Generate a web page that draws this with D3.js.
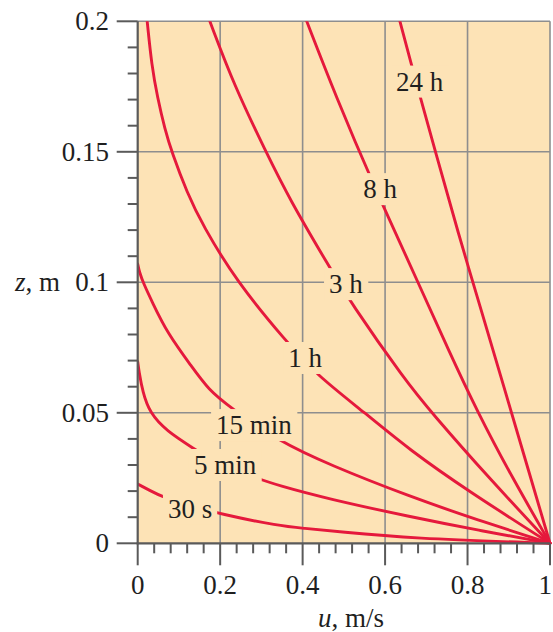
<!DOCTYPE html>
<html><head><meta charset="utf-8">
<script src="https://cdn.jsdelivr.net/npm/d3@7"></script>
<style>body{margin:0;background:#fff;} svg{display:block}</style>
</head><body>
<svg id="c" width="553" height="632"></svg>
<script>
// ---- data (u in m/s, z in m) ----
const seriesNames = ["30 s", "5 min", "15 min", "1 h", "3 h", "8 h", "24 h"];
const s30s  = [[1,0],[0.66,0.0019],[0.49,0.0044],[0.40,0.0058],[0.345,0.0066],[0.2,0.0112],[0.12,0.0148],[0.062,0.0176],[0.03,0.0202],[0,0.0227]];
const s5min = [[1,0],[0.826,0.005],[0.66,0.0102],[0.462,0.017],[0.338,0.0223],[0.296,0.0246],[0.198,0.030],[0.135,0.0364],[0.07,0.043],[0.029,0.05],[0.012,0.058],[0.003,0.066],[0,0.0696]];
const s15min= [[1,0],[0.823,0.009],[0.66,0.0179],[0.466,0.030],[0.341,0.0392],[0.222,0.0523],[0.172,0.0588],[0.131,0.0677],[0.072,0.0805],[0.035,0.0925],[0.014,0.0996],[0.004,0.104],[0,0.107]];
const s1h   = [[1,0],[0.802,0.02],[0.66,0.0357],[0.551,0.05],[0.434,0.0645],[0.361,0.0772],[0.241,0.1],[0.157,0.122],[0.12,0.1342],[0.0825,0.15],[0.066,0.1586],[0.048,0.1708],[0.034,0.183],[0.023,0.2]];
const s3h   = [[1,0],[0.852,0.025],[0.713,0.05],[0.648,0.0626],[0.515,0.0926],[0.4645,0.106],[0.369,0.1316],[0.311,0.15],[0.235,0.175],[0.175,0.2]];
const s8h   = [[1,0],[0.909,0.025],[0.825,0.05],[0.751,0.075],[0.68,0.1],[0.572,0.1372],[0.48,0.1715],[0.41,0.2]];
const s24h  = [[1,0],[0.944,0.03],[0.888,0.06],[0.832,0.09],[0.777,0.119],[0.724,0.149],[0.671,0.179],[0.636,0.2]];
const seriesData = [s30s, s5min, s15min, s1h, s3h, s8h, s24h];
const labelU = [0.127, 0.212, 0.282, 0.406, 0.505, 0.588, 0.684];
const labelZ = [0.0132, 0.030, 0.0453, 0.071, 0.0993, 0.1357, 0.1769];
const uTicks = [0, 0.2, 0.4, 0.6, 0.8, 1];
const uTickLabels = ["0", "0.2", "0.4", "0.6", "0.8", "1"];
const zTicks = [0, 0.05, 0.1, 0.15, 0.2];
const zTickLabels = ["0", "0.05", "0.1", "0.15", "0.2"];
const xTitle = "u, m/s";
const yTitle = "z, m";

// ---- layout ----
const X0 = 137.7, X1 = 550, Y0 = 543.3, Y1 = 21.3;
const x = d3.scaleLinear().domain([0, 1]).range([X0, X1]);
const y = d3.scaleLinear().domain([0, 0.2]).range([Y0, Y1]);
const BG = "#FDE3B6", GRID = "#8e8e8e", AX = "#5a5a5a", RED = "#E5193C", TXT = "#1f1f1f";
const FONT = "'Liberation Serif','Times New Roman',serif";

const svg = d3.select("#c");
svg.append("rect").attr("x", X0).attr("y", Y1).attr("width", X1 - X0).attr("height", Y0 - Y1).attr("fill", BG);

// grid
const g = svg.append("g");
g.selectAll(".gv").data(uTicks.slice(1)).join("line")
  .attr("x1", d => x(d)).attr("x2", d => x(d)).attr("y1", Y0).attr("y2", Y1)
  .attr("stroke", GRID).attr("stroke-width", 1.6);
g.selectAll(".gh").data(zTicks.slice(1)).join("line")
  .attr("x1", X0).attr("x2", X1).attr("y1", d => y(d)).attr("y2", d => y(d))
  .attr("stroke", GRID).attr("stroke-width", 1.6);

// curves
svg.append("defs").append("clipPath").attr("id", "clip").append("rect")
  .attr("x", X0).attr("y", Y1).attr("width", X1 - X0 + 3).attr("height", Y0 - Y1 + 3);
const line = d3.line().x(d => x(d[0])).y(d => y(d[1])).curve(d3.curveBasis);
svg.append("g").attr("clip-path", "url(#clip)").selectAll("path").data(seriesData).join("path")
  .attr("d", line).attr("fill", "none").attr("stroke", RED).attr("stroke-width", 2.9)
  .attr("stroke-linecap", "round");

// labels with background boxes that break the lines
const lg = svg.append("g");
seriesNames.forEach((name, i) => {
  const cx = x(labelU[i]), cy = y(labelZ[i]);
  const r = lg.append("rect").attr("fill", BG);
  const t = lg.append("text").attr("x", cx).attr("y", cy + 9)
    .attr("text-anchor", "middle").attr("font-family", FONT).attr("font-size", 27)
    .attr("fill", TXT).text(name);
  const b = t.node().getBBox();
  r.attr("x", b.x - 5).attr("y", cy - 16).attr("width", b.width + 10).attr("height", 32);
});

// axes
svg.append("line").attr("x1", X0).attr("x2", X0).attr("y1", Y1).attr("y2", Y0 + 1)
  .attr("stroke", AX).attr("stroke-width", 2.2);
svg.append("line").attr("x1", X0 - 1).attr("x2", X1).attr("y1", Y0).attr("y2", Y0)
  .attr("stroke", AX).attr("stroke-width", 2.2);

// y ticks
const yMinor = d3.range(0, 0.2001, 0.01);
svg.append("g").selectAll("line").data(yMinor).join("line")
  .attr("x1", X0).attr("x2", (d, i) => i % 5 === 0 ? X0 - 21 : X0 - 10)
  .attr("y1", d => y(d)).attr("y2", d => y(d)).attr("stroke", AX).attr("stroke-width", 2);
svg.append("g").selectAll("text").data(zTicks).join("text")
  .attr("x", 109).attr("y", d => y(d) + 9).attr("text-anchor", "end")
  .attr("font-family", FONT).attr("font-size", 27).attr("fill", TXT)
  .text((d, i) => zTickLabels[i]);

// x ticks
const xMinor = d3.range(0, 1.0001, 0.04);
svg.append("g").selectAll("line").data(xMinor).join("line")
  .attr("x1", d => x(d)).attr("x2", d => x(d)).attr("y1", Y0)
  .attr("y2", d => (Math.abs(d * 5 - Math.round(d * 5)) < 1e-6) ? Y0 + 22 : Y0 + 10)
  .attr("stroke", AX).attr("stroke-width", 2);
svg.append("g").selectAll("text").data(uTicks).join("text")
  .attr("x", d => d === 1 ? 552 : x(d)).attr("y", 594)
  .attr("text-anchor", d => d === 1 ? "end" : "middle")
  .attr("font-family", FONT).attr("font-size", 27).attr("fill", TXT)
  .text((d, i) => uTickLabels[i]);

// titles
const xt = svg.append("text").attr("x", 351).attr("y", 627).attr("text-anchor", "middle")
  .attr("font-family", FONT).attr("font-size", 27).attr("fill", TXT);
xt.append("tspan").attr("font-style", "italic").text(xTitle.split(",")[0]);
xt.append("tspan").text("," + xTitle.split(",")[1]);
const yt = svg.append("text").attr("x", 15).attr("y", y(0.1) + 9)
  .attr("font-family", FONT).attr("font-size", 27).attr("fill", TXT);
yt.append("tspan").attr("font-style", "italic").text(yTitle.split(",")[0]);
yt.append("tspan").text("," + yTitle.split(",")[1]);
</script>
</body></html>
